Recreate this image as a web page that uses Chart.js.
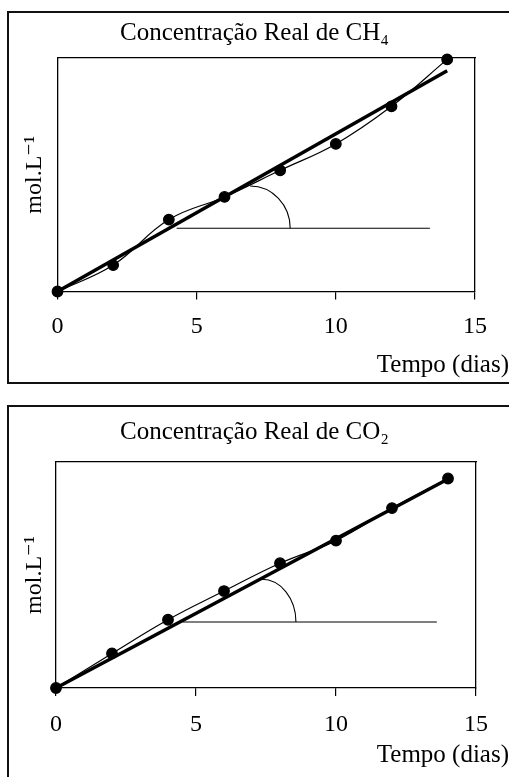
<!DOCTYPE html>
<html>
<head>
<meta charset="utf-8">
<script src="https://cdn.jsdelivr.net/npm/chart.js@4.4.1/dist/chart.umd.min.js"></script>
<style>
  body { margin: 0; background: #fff; overflow: hidden; }
  .wrap { position: absolute; left: 0; width: 509px; }
  .frame { position: absolute; left: 7px; width: 520px; border: 2px solid #111; box-sizing: border-box; pointer-events: none; }
  canvas { position: absolute; left: 0; top: 0; }
</style>
</head>
<body>
<div class="wrap" style="top:0;height:390px">
  <div class="frame" style="top:11px;height:373px"></div>
  <canvas id="ch4Chart" width="509" height="390"></canvas>
</div>
<div class="wrap" style="top:390px;height:387px">
  <div class="frame" style="top:15px;height:400px"></div>
  <canvas id="co2Chart" width="509" height="387"></canvas>
</div>
<script>
// days sampled
const tempo = [0, 2, 4, 6, 8, 10, 12, 14];
// concentrations (arbitrary units, axis has no scale)
const ch4 = [0, 11.3, 30.8, 40.5, 51.9, 63.2, 79.3, 99.4];
const co2 = [0, 15.3, 30.2, 42.9, 55.2, 65.2, 79.6, 92.7];
// linear fit lines
const fitX = [0, 14];
const ch4Fit = [0, 94.5];
const co2Fit = [0, 92.5];
// angle guide: horizontal line and arc (cx, cy, rx, ry) in data units
const ch4GuideX = [4.28, 13.38];
const ch4GuideY = [27.1, 27.1];
const ch4Arc = [6.92, 27.1, 1.44, 18.1];
const co2GuideX = [4.52, 13.6];
const co2GuideY = [29.2, 29.2];
const co2Arc = [7.35, 29.2, 1.22, 18.9];
const xTicks = [0, 5, 10, 15];

const serif = "'Liberation Serif', 'DejaVu Serif', serif";
const TS = 25;          // title / x title font size
const TLH = TS * 1.2;
const KS = 24;          // tick / y title font size
const KLH = KS * 1.2;

const angleArc = {
  id: "angleArc",
  afterDatasetsDraw(chart, args, opts) {
    const a = opts.arc;
    if (!a) return;
    const xs = chart.scales.x, ys = chart.scales.y;
    const cx = xs.getPixelForValue(a[0]);
    const cy = ys.getPixelForValue(a[1]);
    const rx = xs.getPixelForValue(a[0] + a[2]) - cx;
    const ry = cy - ys.getPixelForValue(a[1] + a[3]);
    const ctx = chart.ctx;
    ctx.save();
    ctx.strokeStyle = "#000";
    ctx.lineWidth = 1.1;
    ctx.beginPath();
    ctx.ellipse(cx, cy, rx, ry, 0, -Math.PI / 2, 0);
    ctx.stroke();
    ctx.restore();
  },
};

function pts(xs, ys) {
  return xs.map((x, i) => ({ x: x, y: ys[i] }));
}

function makeChart(id, title, values, fit, guideX, guideY, arc, L) {
  const tickPad = L.tickCenter - L.bottom - 8 - KLH / 2;
  return new Chart(document.getElementById(id), {
    type: "line",
    data: {
      datasets: [
        {
          data: pts(tempo, values),
          borderColor: "#000",
          borderWidth: 1.2,
          tension: 0.4,
          pointRadius: 5.3,
          pointBackgroundColor: "#000",
          pointBorderColor: "#000",
          clip: false,
        },
        {
          data: pts(fitX, fit),
          borderColor: "#000",
          borderWidth: 3.5,
          pointRadius: 0,
          clip: false,
        },
        {
          data: pts(guideX, guideY),
          borderColor: "#000",
          borderWidth: 1.1,
          pointRadius: 0,
        },
      ],
    },
    options: {
      responsive: false,
      animation: false,
      events: [],
      layout: { padding: 0 },
      plugins: {
        legend: { display: false },
        tooltip: { enabled: false },
        title: {
          display: true,
          text: title,
          color: "#000",
          font: { family: serif, size: TS, weight: "normal", lineHeight: 1.2 },
          padding: { top: L.titleCenter - TLH / 2, bottom: L.top - L.titleCenter - TLH / 2 },
        },
        subtitle: {
          display: true,
          position: "bottom",
          align: "end",
          text: "Tempo (dias)",
          color: "#000",
          font: { family: serif, size: TS, weight: "normal", lineHeight: 1.2 },
          padding: { top: 0, bottom: L.h - L.xTitleCenter - TLH / 2 - 2 },
        },
        angleArc: { arc: arc },
      },
      scales: {
        x: {
          type: "linear",
          position: "bottom",
          min: 0,
          max: 15,
          afterBuildTicks: (s) => { s.ticks = xTicks.map((v) => ({ value: v })); },
          afterFit: (s) => { s.height = L.xTitleCenter - TLH / 2 - L.bottom; },
          ticks: {
            color: "#000",
            padding: tickPad,
            font: { family: serif, size: KS, lineHeight: 1.2 },
          },
          grid: { display: true, drawOnChartArea: false, drawTicks: true, tickLength: 8, color: "#000", lineWidth: 1.2 },
          border: { display: true, color: "#000", width: 1.3 },
        },
        x2: {
          type: "linear",
          position: "top",
          ticks: { display: false },
          grid: { display: false, drawTicks: false },
          border: { display: true, color: "#000", width: 1.3 },
          afterFit: (s) => { s.height = 0; },
        },
        y: {
          type: "linear",
          position: "left",
          min: 0,
          max: 100,
          ticks: { display: false },
          grid: { display: false, drawTicks: false },
          border: { display: true, color: "#000", width: 1.3 },
          title: {
            display: true,
            text: "mol.L\u207B\u00B9",
            color: "#000",
            font: { family: serif, size: KS, lineHeight: 1.2 },
            padding: { top: 35 - KLH / 2, bottom: 0 },
          },
          afterFit: (s) => { s.width = L.left; },
        },
        y2: {
          type: "linear",
          position: "right",
          ticks: { display: false },
          grid: { display: false, drawTicks: false },
          border: { display: true, color: "#000", width: 1.3 },
          afterFit: (s) => { s.width = 509 - L.right; },
        },
      },
    },
    plugins: [angleArc],
  });
}

makeChart("ch4Chart", "Concentração Real de CH\u2084", ch4, ch4Fit, ch4GuideX, ch4GuideY, ch4Arc,
  { h: 390, titleCenter: 33, top: 58, bottom: 289.5, tickCenter: 325, xTitleCenter: 363, left: 57.5, right: 475 });

makeChart("co2Chart", "Concentração Real de CO\u2082", co2, co2Fit, co2GuideX, co2GuideY, co2Arc,
  { h: 387, titleCenter: 42, top: 72, bottom: 296, tickCenter: 333, xTitleCenter: 363.3, left: 56, right: 476 });
</script>
</body>
</html>
